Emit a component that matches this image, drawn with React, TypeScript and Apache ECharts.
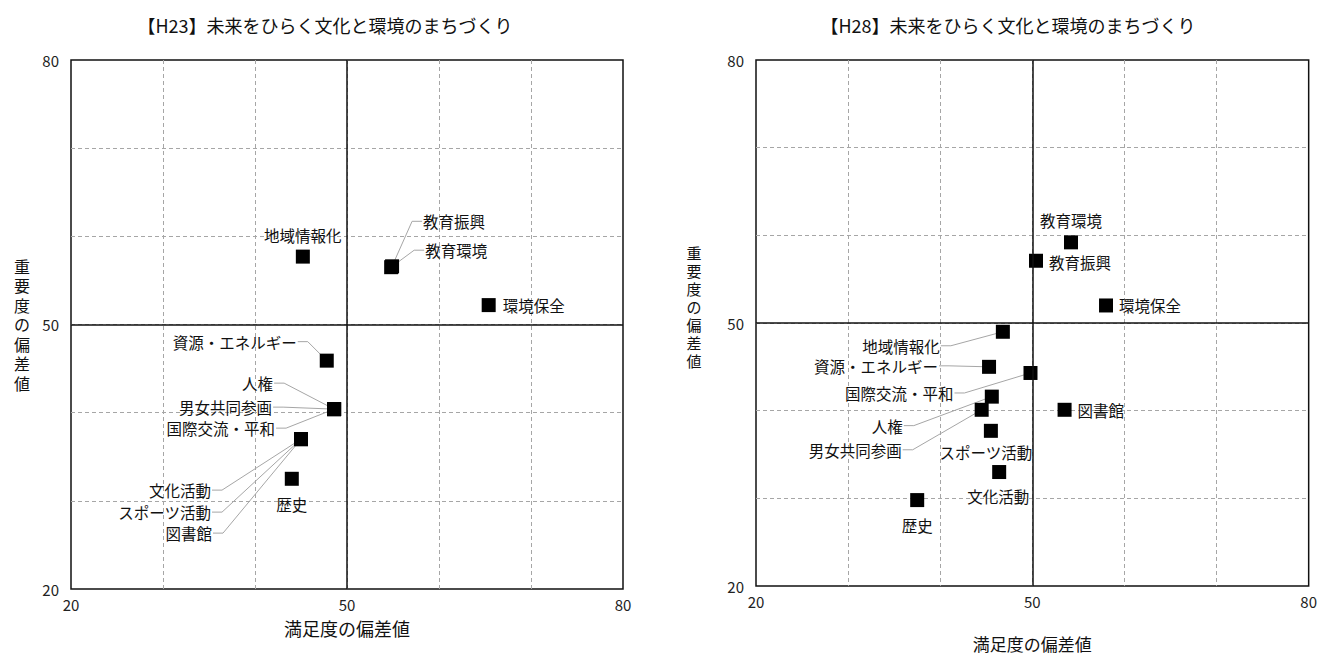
import React, { useEffect, useRef } from "react";
import * as echarts from "echarts";

const NAMES = [
  "地域情報化",
  "教育振興",
  "教育環境",
  "環境保全",
  "資源・エネルギー",
  "人権",
  "男女共同参画",
  "国際交流・平和",
  "文化活動",
  "スポーツ活動",
  "図書館",
  "歴史",
];

// H23: satisfaction (x) and importance (y) deviation values
const SAT_23 = [45.2, 54.9, 54.8, 65.4, 47.8, 48.6, 48.6, 48.6, 45.0, 45.0, 45.0, 44.0];
const IMP_23 = [57.7, 56.6, 56.5, 52.2, 45.9, 40.4, 40.4, 40.4, 37.0, 37.0, 37.0, 32.5];

// H28
const SAT_28 = [46.8, 50.4, 54.2, 58.0, 45.3, 45.6, 44.5, 49.8, 46.4, 45.5, 53.5, 37.5];
const IMP_28 = [49.0, 57.1, 59.2, 52.0, 45.0, 41.6, 40.1, 44.3, 33.0, 37.7, 40.1, 29.8];

const TITLES = ["【H23】未来をひらく文化と環境のまちづくり", "【H28】未来をひらく文化と環境のまちづくり"];
const X_NAME = "満足度の偏差値";
const Y_NAME = "重要度の偏差値";
const AXIS_MIN = 20;
const AXIS_MAX = 80;
const AXIS_STEP = 10;
const SHOWN_TICKS = [20, 50, 80];
const CENTER = 50;

// label placement (pixel offsets from the marker), styling only
type LabelSpec = { dx: number; dy: number; align: string; leader?: boolean };
const LABELS_23: LabelSpec[] = [
  { dx: 0, dy: -22, align: "center" },
  { dx: 31, dy: -45, align: "left", leader: true },
  { dx: 34, dy: -17, align: "left", leader: true },
  { dx: 14, dy: 0, align: "left" },
  { dx: -30, dy: -19, align: "right", leader: true },
  { dx: -61, dy: -26, align: "right", leader: true },
  { dx: -62, dy: -2, align: "right", leader: true },
  { dx: -59, dy: 19, align: "right", leader: true },
  { dx: -90, dy: 51, align: "right", leader: true },
  { dx: -90, dy: 73, align: "right", leader: true },
  { dx: -89, dy: 94, align: "right", leader: true },
  { dx: 0, dy: 25, align: "center" },
];
const LABELS_28: LabelSpec[] = [
  { dx: -63, dy: 14, align: "right", leader: true },
  { dx: 13, dy: 1, align: "left" },
  { dx: 0, dy: -22, align: "center" },
  { dx: 13, dy: 0, align: "left" },
  { dx: -51, dy: -1, align: "right", leader: true },
  { dx: -89, dy: 29, align: "right", leader: true },
  { dx: -80, dy: 40, align: "right", leader: true },
  { dx: -77, dy: 20, align: "right", leader: true },
  { dx: -1, dy: 24, align: "center" },
  { dx: -5, dy: 21, align: "center" },
  { dx: 13, dy: 0, align: "left" },
  { dx: 0, dy: 25, align: "center" },
];

const FONT = '"Noto Sans CJK JP", "Noto Sans", sans-serif';
const LEADER_COLOR = "#a6a6a6";

function makeAxis(idx: number, isX: boolean) {
  return {
    type: "value",
    gridIndex: idx,
    min: AXIS_MIN,
    max: AXIS_MAX,
    interval: AXIS_STEP,
    axisLine: { show: false },
    axisTick: { show: false },
    axisLabel: {
      margin: isX ? 8 : 12,
      fontSize: 15,
      fontFamily: FONT,
      color: "#222",
      formatter: (v: number) => (SHOWN_TICKS.includes(v) ? String(v) : ""),
    },
    splitLine: {
      show: true,
      showMinLine: false,
      showMaxLine: false,
      lineStyle: { type: [4, 3], color: "#a6a6a6", width: 1 },
    },
  };
}

function labelSeries(idx: number, sat: number[], imp: number[], specs: LabelSpec[]) {
  return {
    type: "custom",
    xAxisIndex: idx,
    yAxisIndex: idx,
    z: 2,
    clip: false,
    silent: true,
    data: sat.map((x, i) => [x, imp[i], i]),
    renderItem: (params: any, api: any) => {
      const i = api.value(2);
      const pt = api.coord([api.value(0), api.value(1)]);
      const spec = specs[i];
      const tx = pt[0] + spec.dx;
      const ty = pt[1] + spec.dy;
      const children: any[] = [];
      if (spec.leader) {
        const dir = spec.align === "right" ? 1 : -1;
        const sx = tx + dir * 1;
        children.push({
          type: "polyline",
          shape: { points: [[sx, ty], [sx + dir * 10, ty], [pt[0], pt[1]]] },
          style: { stroke: LEADER_COLOR, fill: null, lineWidth: 1 },
        });
      }
      children.push({
        type: "text",
        x: tx,
        y: ty,
        style: {
          text: NAMES[i],
          fill: "#111",
          fontSize: 15.5,
          fontFamily: FONT,
          align: spec.align,
          verticalAlign: "middle",
        },
      });
      return { type: "group", children };
    },
  };
}

export default function App() {
  const ref = useRef<HTMLDivElement>(null);
  useEffect(() => {
    if (!ref.current) return;
    const chart = echarts.init(ref.current, undefined, { renderer: "svg" });
    const grids = [
      { left: 71, top: 60, width: 552, height: 529 },
      { left: 756, top: 60, width: 553, height: 529 },
    ];
    const titleStyle = { fontSize: 18, fontWeight: "normal", color: "#111", fontFamily: FONT };
    const option: any = {
      animation: false,
      backgroundColor: "#fff",
      textStyle: { fontFamily: FONT },
      title: [
        { text: TITLES[0], left: 320, top: 11, textAlign: "center", textStyle: titleStyle },
        { text: TITLES[1], left: 1003, top: 11, textAlign: "center", textStyle: titleStyle },
      ],
      grid: grids.map((g) => ({ ...g, show: true, borderColor: "#111", borderWidth: 1.5, backgroundColor: "transparent" })),
      xAxis: [
        { ...makeAxis(0, true), name: X_NAME, nameLocation: "middle", nameGap: 30, nameTextStyle: { fontSize: 18, color: "#111", fontFamily: FONT } },
        { ...makeAxis(1, true), name: X_NAME, nameLocation: "middle", nameGap: 49, nameTextStyle: { fontSize: 17, color: "#111", fontFamily: FONT } },
      ],
      yAxis: [makeAxis(0, false), makeAxis(1, false)],
      graphic: [
        {
          type: "text",
          x: 22,
          y: 324,
          style: {
            text: Y_NAME.split("").join("\n"),
            fontSize: 16,
            lineHeight: 19.5,
            fontFamily: FONT,
            fill: "#111",
            align: "center",
            verticalAlign: "middle",
          },
        },
        {
          type: "text",
          x: 694,
          y: 306,
          style: {
            text: Y_NAME.split("").join("\n"),
            fontSize: 15,
            lineHeight: 18,
            fontFamily: FONT,
            fill: "#111",
            align: "center",
            verticalAlign: "middle",
          },
        },
      ],
      series: [0, 1].flatMap((idx) => {
        const sat = idx === 0 ? SAT_23 : SAT_28;
        const imp = idx === 0 ? IMP_23 : IMP_28;
        const specs = idx === 0 ? LABELS_23 : LABELS_28;
        return [
          {
            type: "scatter",
            xAxisIndex: idx,
            yAxisIndex: idx,
            z: 1,
            data: [],
            silent: true,
            markLine: {
              silent: true,
              symbol: "none",
              label: { show: false },
              lineStyle: { type: "solid", color: "#111", width: 1.5 },
              data: [{ xAxis: CENTER }, { yAxis: CENTER }],
            },
          },
          labelSeries(idx, sat, imp, specs),
          {
            type: "scatter",
            xAxisIndex: idx,
            yAxisIndex: idx,
            z: 3,
            symbol: "rect",
            symbolSize: 14,
            itemStyle: { color: "#000", opacity: 1 },
            data: sat.map((x, i) => ({ name: NAMES[i], value: [x, imp[i]] })),
          },
        ];
      }),
    };
    chart.setOption(option);
    return () => chart.dispose();
  }, []);
  return <div ref={ref} style={{ position: "fixed", left: 0, top: 0, width: 1320, height: 657 }} />;
}
